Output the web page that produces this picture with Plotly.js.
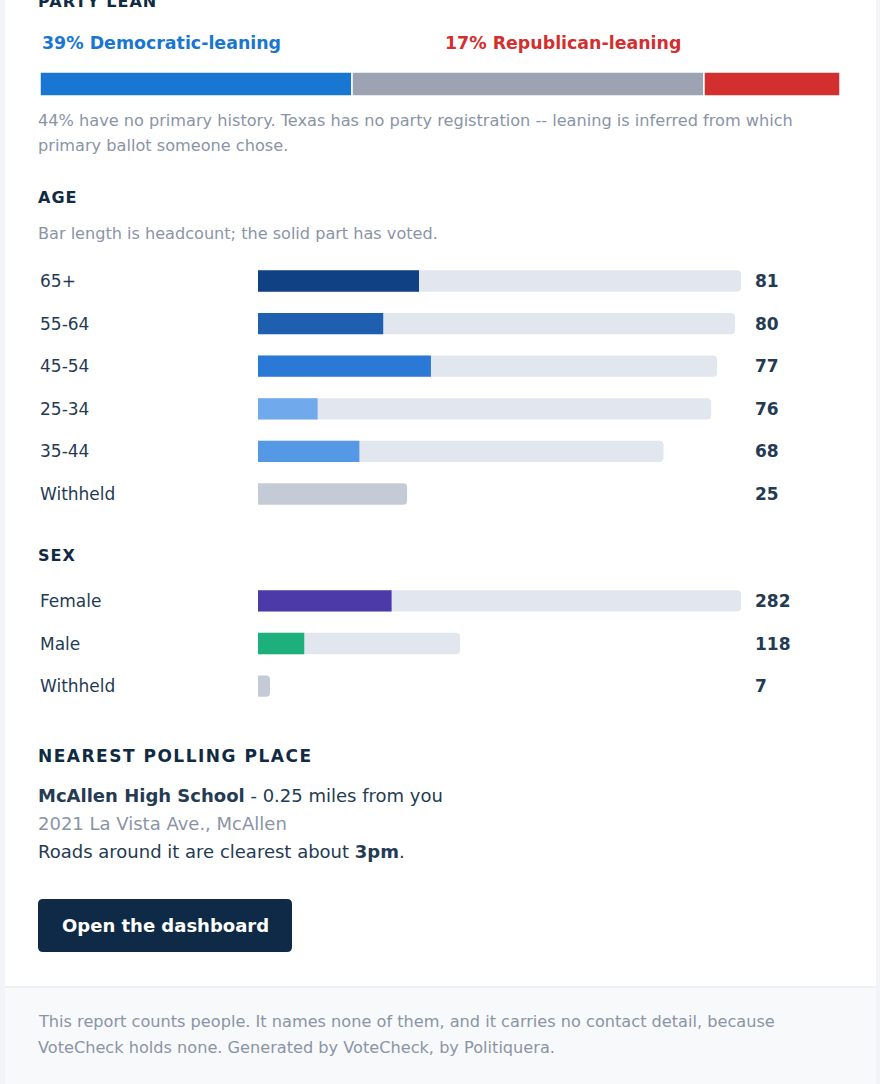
<!DOCTYPE html>
<html><head><meta charset="utf-8">
<script src="https://cdn.plot.ly/plotly-3.0.1.min.js"></script>
<style>html,body{margin:0;padding:0;background:#f2f4f7;overflow:hidden}#chart{width:880px;height:1084px;}</style>
</head><body><div id="chart"></div>
<script>
// ---- data ----
const partyLabels = ['Democratic-leaning', 'No primary history', 'Republican-leaning'];
const partyShares = [39, 44, 17];
const partyColors = ['#1976d2', '#9ca4b3', '#d32f2f'];

const ageGroups = ['65+', '55-64', '45-54', '25-34', '35-44', 'Withheld'];
const ageHeadcount = [81, 80, 77, 76, 68, 25];
const ageVoted = [27, 21, 29, 10, 17, null];
const ageColors = ['#0f4184', '#1f5fb0', '#2b79d6', '#70a9ec', '#5598e5', '#c4cad6'];

const sexGroups = ['Female', 'Male', 'Withheld'];
const sexHeadcount = [282, 118, 7];
const sexVoted = [78, 27, null];
const sexColors = ['#4b3aa8', '#1db07c', '#c4cad6'];

const pollingPlace = 'McAllen High School';
const pollingDistance = '0.25 miles from you';
const pollingAddress = '2021 La Vista Ave., McAllen';
const clearestTime = '3pm';

// ---- helpers ----
const W = 880, H = 1084;
const px = x => x / W;
const py = y => 1 - y / H;
const FONT = 'DejaVu Sans';
const NAVY = '#102a43', TEXT = '#243b53', GREY = '#8a94a6', TRACK = '#e2e6ef';

const anns = [];
function ann(text, x, y, size, color, extra) {
  anns.push(Object.assign({
    text: text, xref: 'paper', yref: 'paper', x: px(x), y: py(y),
    xanchor: 'left', yanchor: 'middle', showarrow: false,
    borderpad: 0, borderwidth: 0,
    font: {family: FONT, size: size, color: color}
  }, extra || {}));
}
function spaced(t, ls) { return '<span style="letter-spacing:' + ls + 'px">' + t + '</span>'; }

// ---- traces ----
const traces = [];
const partyBase = partyShares.map((v, i) => partyShares.slice(0, i).reduce((a, b) => a + b, 0));
traces.push({
  type: 'bar', orientation: 'h', x: partyShares, base: partyBase, y: partyLabels.map(() => 'lean'),
  width: 1, marker: {color: partyColors, line: {color: '#ffffff', width: 1.5}},
  xaxis: 'x', yaxis: 'y', hoverinfo: 'skip'
});
traces.push({
  type: 'bar', orientation: 'h', x: ageHeadcount, y: ageGroups, width: 0.5,
  marker: {color: ageGroups.map((g, i) => ageVoted[i] == null ? ageColors[i] : TRACK), cornerradius: 4},
  xaxis: 'x2', yaxis: 'y2', hoverinfo: 'skip'
});
traces.push({
  type: 'bar', orientation: 'h', x: ageVoted, y: ageGroups, width: 0.5,
  marker: {color: ageColors, cornerradius: 4},
  xaxis: 'x2', yaxis: 'y2', hoverinfo: 'skip'
});
traces.push({
  type: 'bar', orientation: 'h', x: sexHeadcount, y: sexGroups, width: 0.5,
  marker: {color: sexGroups.map((g, i) => sexVoted[i] == null ? sexColors[i] : TRACK), cornerradius: 4},
  xaxis: 'x3', yaxis: 'y3', hoverinfo: 'skip'
});
traces.push({
  type: 'bar', orientation: 'h', x: sexVoted, y: sexGroups, width: 0.5,
  marker: {color: sexColors, cornerradius: 4},
  xaxis: 'x3', yaxis: 'y3', hoverinfo: 'skip'
});

// ---- row labels / values ----
function rowText(groups, counts, yref) {
  groups.forEach((g, i) => {
    anns.push({text: g, xref: 'paper', yref: yref, x: px(40), y: g, xanchor: 'left', yanchor: 'middle',
      showarrow: false, borderpad: 0, borderwidth: 0, font: {family: FONT, size: 17, color: TEXT}});
    anns.push({text: '<b>' + counts[i] + '</b>', xref: 'paper', yref: yref, x: px(755), y: g, xanchor: 'left', yanchor: 'middle',
      showarrow: false, borderpad: 0, borderwidth: 0, font: {family: FONT, size: 17, color: TEXT}});
  });
}
rowText(ageGroups, ageHeadcount, 'y2');
rowText(sexGroups, sexHeadcount, 'y3');

// ---- section text ----
ann('<b>' + spaced('PARTY LEAN', 1) + '</b>', 38, 1, 16, NAVY);
ann('<b>' + partyShares[0] + '% ' + partyLabels[0] + '</b>', 42, 43, 17.4, partyColors[0]);
ann('<b>' + partyShares[2] + '% ' + partyLabels[2] + '</b>', 445, 43, 17.4, partyColors[2]);
ann(partyShares[1] + '% have no primary history. Texas has no party registration -- leaning is inferred from which', 38, 120, 16.15, GREY);
ann('primary ballot someone chose.', 38, 145, 16.15, GREY);

ann('<b>' + spaced('AGE', 1) + '</b>', 38, 197, 16, NAVY);
ann('Bar length is headcount; the solid part has voted.', 38, 233, 16.1, GREY);
ann('<b>' + spaced('SEX', 1) + '</b>', 38, 555, 16, NAVY);

ann('<b>' + spaced('NEAREST POLLING PLACE', 1.5) + '</b>', 38, 756, 17, NAVY);
ann('<b>' + pollingPlace + '</b> - ' + pollingDistance, 38, 795, 18, TEXT);
ann(pollingAddress, 38, 823, 18, GREY);
ann('Roads around it are clearest about <b>' + clearestTime + '</b>.', 38, 851, 18, TEXT);
ann('<b>Open the dashboard</b>', 165, 925, 18, '#ffffff', {xanchor: 'center'});

ann('This report counts people. It names none of them, and it carries no contact detail, because', 38, 1021, 16.15, GREY);
ann('VoteCheck holds none. Generated by VoteCheck, by Politiquera.', 38, 1047, 16.15, GREY);

// ---- shapes ----
function roundRect(x0, y0, x1, y1, r) {
  const X = px, Y = py;
  return 'M ' + X(x0 + r) + ' ' + Y(y0) + ' L ' + X(x1 - r) + ' ' + Y(y0) +
    ' Q ' + X(x1) + ' ' + Y(y0) + ' ' + X(x1) + ' ' + Y(y0 + r) +
    ' L ' + X(x1) + ' ' + Y(y1 - r) + ' Q ' + X(x1) + ' ' + Y(y1) + ' ' + X(x1 - r) + ' ' + Y(y1) +
    ' L ' + X(x0 + r) + ' ' + Y(y1) + ' Q ' + X(x0) + ' ' + Y(y1) + ' ' + X(x0) + ' ' + Y(y1 - r) +
    ' L ' + X(x0) + ' ' + Y(y0 + r) + ' Q ' + X(x0) + ' ' + Y(y0) + ' ' + X(x0 + r) + ' ' + Y(y0) + ' Z';
}
const shapes = [
  {type: 'rect', xref: 'paper', yref: 'paper', x0: px(5), x1: px(876), y0: py(0), y1: py(986), fillcolor: '#ffffff', line: {width: 0}, layer: 'below'},
  {type: 'rect', xref: 'paper', yref: 'paper', x0: px(5), x1: px(876), y0: py(986), y1: py(988), fillcolor: '#eef0f3', line: {width: 0}, layer: 'below'},
  {type: 'rect', xref: 'paper', yref: 'paper', x0: px(5), x1: px(876), y0: py(988), y1: py(1084), fillcolor: '#f8f9fb', line: {width: 0}, layer: 'below'},
  {type: 'path', xref: 'paper', yref: 'paper', path: roundRect(38, 899, 292, 952, 5), fillcolor: '#0f2a47', line: {width: 0}, layer: 'below'}
];

const hiddenAxis = {showgrid: false, zeroline: false, showticklabels: false, ticks: '', showline: false, fixedrange: true};
const layout = {
  width: W, height: H, margin: {l: 0, r: 0, t: 0, b: 0, pad: 0},
  paper_bgcolor: '#f2f4f7', plot_bgcolor: 'rgba(0,0,0,0)',
  showlegend: false, barmode: 'overlay', font: {family: FONT},
  xaxis: Object.assign({domain: [px(40), px(840)], range: [0, 100], anchor: 'y'}, hiddenAxis),
  yaxis: Object.assign({domain: [py(96), py(72)], range: [-0.5, 0.5], anchor: 'x', type: 'category'}, hiddenAxis),
  xaxis2: Object.assign({domain: [px(258), px(741)], range: [0, Math.max(...ageHeadcount)], anchor: 'y2'}, hiddenAxis),
  yaxis2: Object.assign({domain: [py(515.3), py(259.7)], range: [ageGroups.length - 0.5, -0.5], anchor: 'x2', type: 'category'}, hiddenAxis),
  xaxis3: Object.assign({domain: [px(258), px(741)], range: [0, Math.max(...sexHeadcount)], anchor: 'y3'}, hiddenAxis),
  yaxis3: Object.assign({domain: [py(707.3), py(579.7)], range: [sexGroups.length - 0.5, -0.5], anchor: 'x3', type: 'category'}, hiddenAxis),
  annotations: anns, shapes: shapes
};
Plotly.newPlot('chart', traces, layout, {displayModeBar: false, staticPlot: true});
</script></body></html>
